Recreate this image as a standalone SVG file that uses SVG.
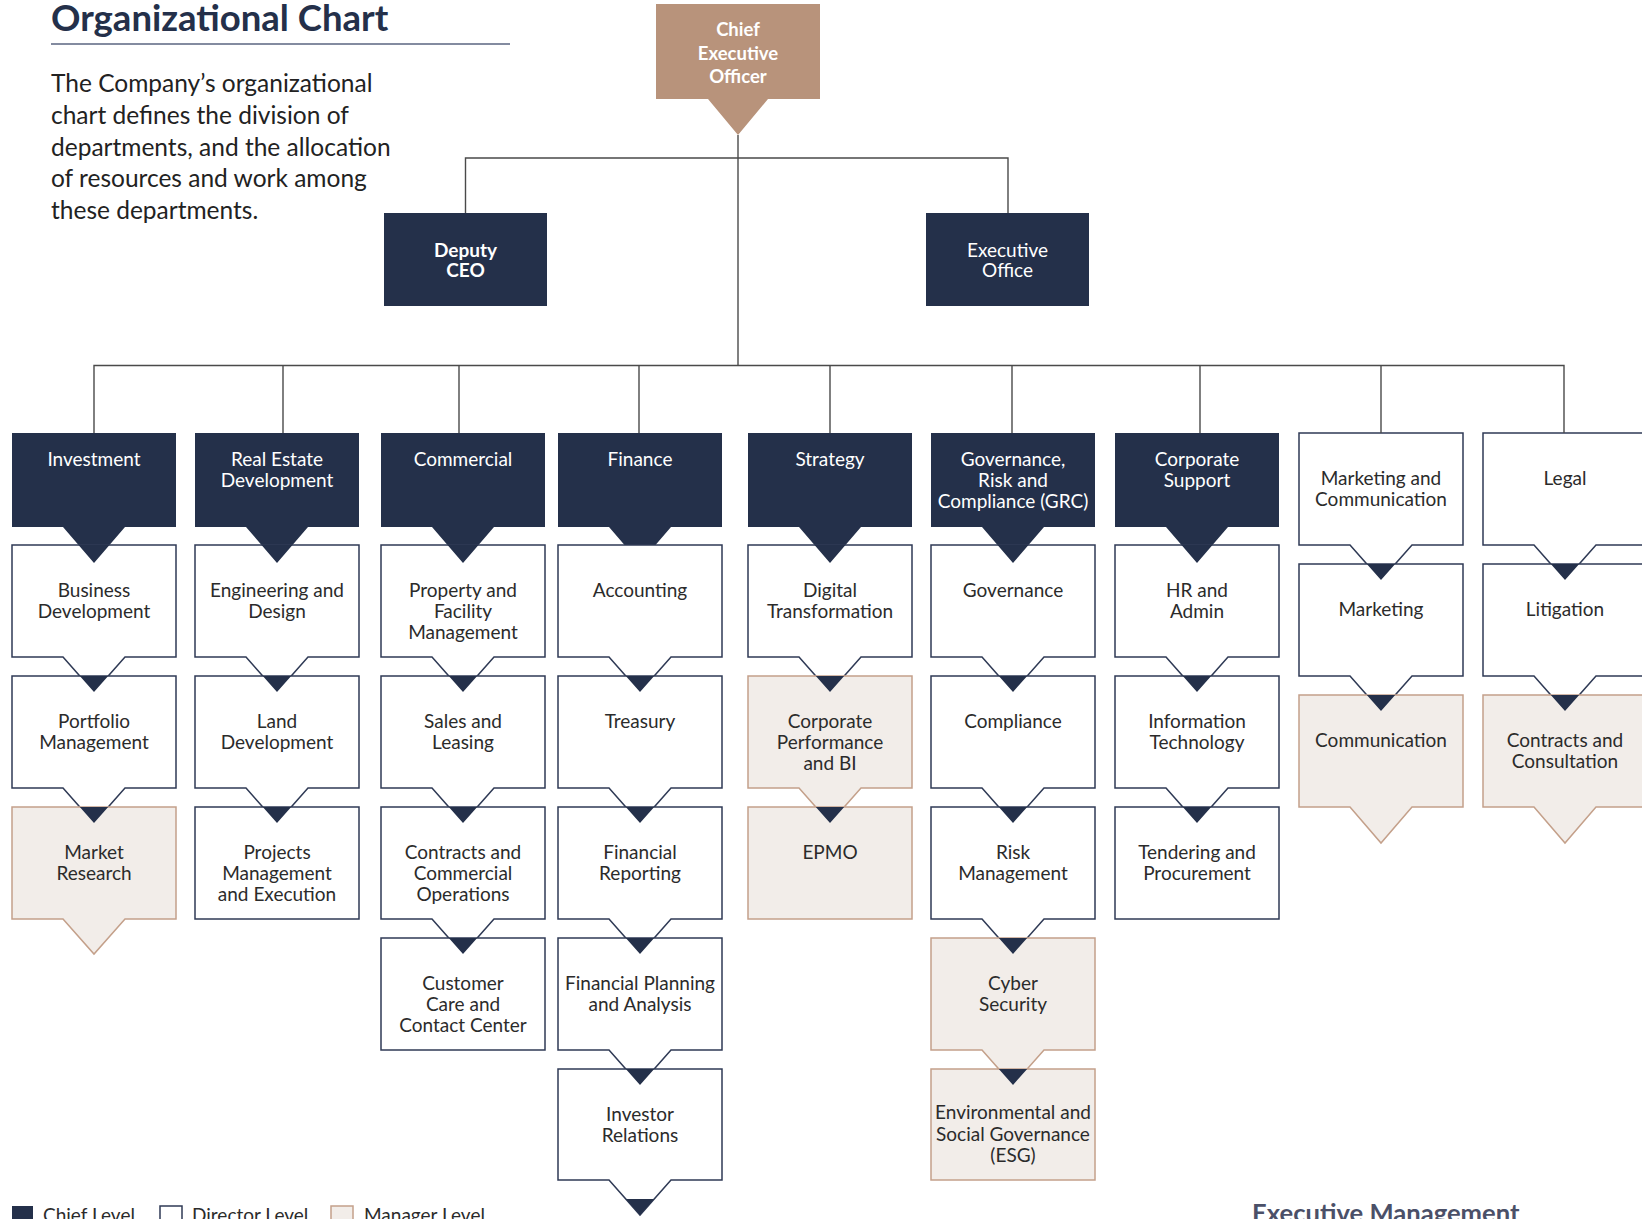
<svg xmlns="http://www.w3.org/2000/svg" width="1642" height="1219" viewBox="0 0 1642 1219">
<style>
text{font-family:Lato,"Open Sans","Liberation Sans",sans-serif;}
.lbl{font-size:19px;fill:#2b2b2b;text-anchor:middle;}
.wl{font-size:19px;fill:#ffffff;text-anchor:middle;}
.wb{font-size:19px;fill:#ffffff;text-anchor:middle;font-weight:700;}
.chief{fill:#24304a;}
.dir{fill:#ffffff;stroke:#2f3a55;stroke-width:1.5;}
.mgr{fill:#f2ede9;stroke:#c4a08a;stroke-width:1.5;}
.ceo{fill:#b8937b;}
.ln{fill:none;stroke:#4a4a4a;stroke-width:1.4;}
.tip{fill:#24304a;}
.leg{font-size:19px;fill:#2b2b2b;}
</style>
<rect width="1642" height="1219" fill="#ffffff"/>

<g id="header">
<text x="51" y="31" style="font-size:36.5px;font-weight:700;fill:#24304a;">Organizational Chart</text>
<line x1="51" y1="44" x2="510" y2="44" stroke="#5a6580" stroke-width="1.5"/>
<text style="font-size:24.5px;fill:#222222;">
<tspan x="51" y="92">The Company’s organizational</tspan>
<tspan x="51" y="123.75">chart defines the division of</tspan>
<tspan x="51" y="155.5">departments, and the allocation</tspan>
<tspan x="51" y="187.25">of resources and work among</tspan>
<tspan x="51" y="219">these departments.</tspan>
</text>
</g>

<g id="ceo">
<path class="ceo" d="M656,4 H820 V99 H768 L738,135 L708,99 H656 Z"/>
<text class="wb" style="font-size:18.5px"><tspan x="738" y="36">Chief</tspan><tspan x="738" y="60">Executive</tspan><tspan x="738" y="83">Officer</tspan></text>
</g>
<g id="deputy-ceo">
<rect class="chief" x="384" y="213" width="163" height="93"/>
<text class="wb"><tspan x="465.5" y="257">Deputy</tspan><tspan x="465.5" y="277">CEO</tspan></text>
</g>
<g id="executive-office">
<rect class="chief" x="926" y="213" width="163" height="93"/>
<text class="wl"><tspan x="1007.5" y="257">Executive</tspan><tspan x="1007.5" y="277">Office</tspan></text>
</g>

<!-- Column 1: Investment -->
<g id="investment">
<path class="chief" d="M12,433 H176 V527 H125 L94,563 L63,527 H12 Z"/>
<text class="wl"><tspan x="94" y="466">Investment</tspan></text>
</g>
<g id="business-development">
<path class="dir" d="M12,545 H176 V657 H125 L94,692 L63,657 H12 Z"/>
<text class="lbl"><tspan x="94" y="597">Business</tspan><tspan x="94" y="618">Development</tspan></text>
</g>
<g id="portfolio-management">
<path class="dir" d="M12,676 H176 V788 H125 L94,823 L63,788 H12 Z"/>
<text class="lbl"><tspan x="94" y="728">Portfolio</tspan><tspan x="94" y="749">Management</tspan></text>
</g>
<g id="market-research">
<path class="mgr" d="M12,807 H176 V919 H125 L94,954 L63,919 H12 Z"/>
<text class="lbl"><tspan x="94" y="859">Market</tspan><tspan x="94" y="880">Research</tspan></text>
</g>

<!-- Column 2: Real Estate Development -->
<g id="real-estate-development">
<path class="chief" d="M195,433 H359 V527 H308 L277,563 L246,527 H195 Z"/>
<text class="wl"><tspan x="277" y="466">Real Estate</tspan><tspan x="277" y="487">Development</tspan></text>
</g>
<g id="engineering-and-design">
<path class="dir" d="M195,545 H359 V657 H308 L277,692 L246,657 H195 Z"/>
<text class="lbl"><tspan x="277" y="597">Engineering and</tspan><tspan x="277" y="618">Design</tspan></text>
</g>
<g id="land-development">
<path class="dir" d="M195,676 H359 V788 H308 L277,823 L246,788 H195 Z"/>
<text class="lbl"><tspan x="277" y="728">Land</tspan><tspan x="277" y="749">Development</tspan></text>
</g>
<g id="projects-management">
<rect class="dir" x="195" y="807" width="164" height="112"/>
<text class="lbl"><tspan x="277" y="859">Projects</tspan><tspan x="277" y="880">Management</tspan><tspan x="277" y="901">and Execution</tspan></text>
</g>

<!-- Column 3: Commercial -->
<g id="commercial">
<path class="chief" d="M381,433 H545 V527 H494 L463,563 L432,527 H381 Z"/>
<text class="wl"><tspan x="463" y="466">Commercial</tspan></text>
</g>
<g id="property-facility-management">
<path class="dir" d="M381,545 H545 V657 H494 L463,692 L432,657 H381 Z"/>
<text class="lbl"><tspan x="463" y="597">Property and</tspan><tspan x="463" y="618">Facility</tspan><tspan x="463" y="639">Management</tspan></text>
</g>
<g id="sales-and-leasing">
<path class="dir" d="M381,676 H545 V788 H494 L463,823 L432,788 H381 Z"/>
<text class="lbl"><tspan x="463" y="728">Sales and</tspan><tspan x="463" y="749">Leasing</tspan></text>
</g>
<g id="contracts-commercial-operations">
<path class="dir" d="M381,807 H545 V919 H494 L463,954 L432,919 H381 Z"/>
<text class="lbl"><tspan x="463" y="859">Contracts and</tspan><tspan x="463" y="880">Commercial</tspan><tspan x="463" y="901">Operations</tspan></text>
</g>
<g id="customer-care">
<rect class="dir" x="381" y="938" width="164" height="112"/>
<text class="lbl"><tspan x="463" y="990">Customer</tspan><tspan x="463" y="1011">Care and</tspan><tspan x="463" y="1032">Contact Center</tspan></text>
</g>

<!-- Column 4: Finance -->
<g id="finance">
<path class="chief" d="M558,433 H722 V527 H671 L640,563 L609,527 H558 Z"/>
<text class="wl"><tspan x="640" y="466">Finance</tspan></text>
</g>
<g id="accounting">
<path class="dir" d="M558,545 H722 V657 H671 L640,692 L609,657 H558 Z"/>
<text class="lbl"><tspan x="640" y="597">Accounting</tspan></text>
</g>
<g id="treasury">
<path class="dir" d="M558,676 H722 V788 H671 L640,823 L609,788 H558 Z"/>
<text class="lbl"><tspan x="640" y="728">Treasury</tspan></text>
</g>
<g id="financial-reporting">
<path class="dir" d="M558,807 H722 V919 H671 L640,954 L609,919 H558 Z"/>
<text class="lbl"><tspan x="640" y="859">Financial</tspan><tspan x="640" y="880">Reporting</tspan></text>
</g>
<g id="financial-planning">
<path class="dir" d="M558,938 H722 V1050 H671 L640,1085 L609,1050 H558 Z"/>
<text class="lbl"><tspan x="640" y="990">Financial Planning</tspan><tspan x="640" y="1011">and Analysis</tspan></text>
</g>
<g id="investor-relations">
<path class="dir" d="M558,1069 H722 V1180 H671 L640,1215 L609,1180 H558 Z"/>
<text class="lbl"><tspan x="640" y="1121">Investor</tspan><tspan x="640" y="1142">Relations</tspan></text>
</g>

<!-- Column 5: Strategy -->
<g id="strategy">
<path class="chief" d="M748,433 H912 V527 H861 L830,563 L799,527 H748 Z"/>
<text class="wl"><tspan x="830" y="466">Strategy</tspan></text>
</g>
<g id="digital-transformation">
<path class="dir" d="M748,545 H912 V657 H861 L830,692 L799,657 H748 Z"/>
<text class="lbl"><tspan x="830" y="597">Digital</tspan><tspan x="830" y="618">Transformation</tspan></text>
</g>
<g id="corporate-performance">
<path class="mgr" d="M748,676 H912 V788 H861 L830,823 L799,788 H748 Z"/>
<text class="lbl"><tspan x="830" y="728">Corporate</tspan><tspan x="830" y="749">Performance</tspan><tspan x="830" y="770">and BI</tspan></text>
</g>
<g id="epmo">
<rect class="mgr" x="748" y="807" width="164" height="112"/>
<text class="lbl"><tspan x="830" y="859">EPMO</tspan></text>
</g>

<!-- Column 6: GRC -->
<g id="grc">
<path class="chief" d="M931,433 H1095 V527 H1044 L1013,563 L982,527 H931 Z"/>
<text class="wl"><tspan x="1013" y="466">Governance,</tspan><tspan x="1013" y="487">Risk and</tspan><tspan x="1013" y="508">Compliance (GRC)</tspan></text>
</g>
<g id="governance">
<path class="dir" d="M931,545 H1095 V657 H1044 L1013,692 L982,657 H931 Z"/>
<text class="lbl"><tspan x="1013" y="597">Governance</tspan></text>
</g>
<g id="compliance">
<path class="dir" d="M931,676 H1095 V788 H1044 L1013,823 L982,788 H931 Z"/>
<text class="lbl"><tspan x="1013" y="728">Compliance</tspan></text>
</g>
<g id="risk-management">
<path class="dir" d="M931,807 H1095 V919 H1044 L1013,954 L982,919 H931 Z"/>
<text class="lbl"><tspan x="1013" y="859">Risk</tspan><tspan x="1013" y="880">Management</tspan></text>
</g>
<g id="cyber-security">
<path class="mgr" d="M931,938 H1095 V1050 H1044 L1013,1085 L982,1050 H931 Z"/>
<text class="lbl"><tspan x="1013" y="990">Cyber</tspan><tspan x="1013" y="1011">Security</tspan></text>
</g>
<g id="esg">
<rect class="mgr" x="931" y="1069" width="164" height="111"/>
<text class="lbl"><tspan x="1013" y="1119">Environmental and</tspan><tspan x="1013" y="1141">Social Governance</tspan><tspan x="1013" y="1162">(ESG)</tspan></text>
</g>

<!-- Column 7: Corporate Support -->
<g id="corporate-support">
<path class="chief" d="M1115,433 H1279 V527 H1228 L1197,563 L1166,527 H1115 Z"/>
<text class="wl"><tspan x="1197" y="466">Corporate</tspan><tspan x="1197" y="487">Support</tspan></text>
</g>
<g id="hr-and-admin">
<path class="dir" d="M1115,545 H1279 V657 H1228 L1197,692 L1166,657 H1115 Z"/>
<text class="lbl"><tspan x="1197" y="597">HR and</tspan><tspan x="1197" y="618">Admin</tspan></text>
</g>
<g id="information-technology">
<path class="dir" d="M1115,676 H1279 V788 H1228 L1197,823 L1166,788 H1115 Z"/>
<text class="lbl"><tspan x="1197" y="728">Information</tspan><tspan x="1197" y="749">Technology</tspan></text>
</g>
<g id="tendering-procurement">
<rect class="dir" x="1115" y="807" width="164" height="112"/>
<text class="lbl"><tspan x="1197" y="859">Tendering and</tspan><tspan x="1197" y="880">Procurement</tspan></text>
</g>

<!-- Column 8: Marketing and Communication -->
<g id="marketing-and-communication">
<path class="dir" d="M1299,433 H1463 V545 H1412 L1381,580 L1350,545 H1299 Z"/>
<text class="lbl"><tspan x="1381" y="485">Marketing and</tspan><tspan x="1381" y="506">Communication</tspan></text>
</g>
<g id="marketing">
<path class="dir" d="M1299,564 H1463 V676 H1412 L1381,711 L1350,676 H1299 Z"/>
<text class="lbl"><tspan x="1381" y="616">Marketing</tspan></text>
</g>
<g id="communication">
<path class="mgr" d="M1299,695 H1463 V807 H1412 L1381,843 L1350,807 H1299 Z"/>
<text class="lbl"><tspan x="1381" y="747">Communication</tspan></text>
</g>

<!-- Column 9: Legal -->
<g id="legal">
<path class="dir" d="M1483,433 H1647 V545 H1596 L1565,580 L1534,545 H1483 Z"/>
<text class="lbl"><tspan x="1565" y="485">Legal</tspan></text>
</g>
<g id="litigation">
<path class="dir" d="M1483,564 H1647 V676 H1596 L1565,711 L1534,676 H1483 Z"/>
<text class="lbl"><tspan x="1565" y="616">Litigation</tspan></text>
</g>
<g id="contracts-and-consultation">
<path class="mgr" d="M1483,695 H1647 V807 H1596 L1565,843 L1534,807 H1483 Z"/>
<text class="lbl"><tspan x="1565" y="747">Contracts and</tspan><tspan x="1565" y="768">Consultation</tspan></text>
</g>

<g id="connectors">
<path class="ln" d="M738,135 V365.5"/>
<path class="ln" d="M465.5,213 V158 H1008 V213"/>
<path class="ln" d="M94,433 V365.5 H1564 V433"/>
<path class="ln" d="M283,365.5 V433 M459,365.5 V433 M639,365.5 V433 M830,365.5 V433 M1012,365.5 V433 M1200,365.5 V433 M1381,365.5 V433"/>
<path class="tip" d="M78.5,545 H109.5 L94,563 Z M261.5,545 H292.5 L277,563 Z M447.5,545 H478.5 L463,563 Z M814.5,545 H845.5 L830,563 Z M997.5,545 H1028.5 L1013,563 Z M1181.5,545 H1212.5 L1197,563 Z"/>
<path class="tip" d="M79.8,676 H108.2 L94,692 Z M79.8,807 H108.2 L94,823 Z"/>
<path class="tip" d="M262.8,676 H291.2 L277,692 Z M262.8,807 H291.2 L277,823 Z"/>
<path class="tip" d="M448.8,676 H477.2 L463,692 Z M448.8,807 H477.2 L463,823 Z M448.8,938 H477.2 L463,954 Z"/>
<path class="tip" d="M625.8,676 H654.2 L640,692 Z M625.8,807 H654.2 L640,823 Z M625.8,938 H654.2 L640,954 Z M625.8,1069 H654.2 L640,1085 Z M625.8,1199 H654.2 L640,1215 Z"/>
<path class="tip" d="M815.8,676 H844.2 L830,692 Z M815.8,807 H844.2 L830,823 Z"/>
<path class="tip" d="M998.8,676 H1027.2 L1013,692 Z M998.8,807 H1027.2 L1013,823 Z M998.8,938 H1027.2 L1013,954 Z M998.8,1069 H1027.2 L1013,1085 Z"/>
<path class="tip" d="M1182.8,676 H1211.2 L1197,692 Z M1182.8,807 H1211.2 L1197,823 Z"/>
<path class="tip" d="M1366.8,564 H1395.2 L1381,580 Z M1366.8,695 H1395.2 L1381,711 Z"/>
<path class="tip" d="M1550.8,564 H1579.2 L1565,580 Z M1550.8,695 H1579.2 L1565,711 Z"/>
</g>

<g id="legend">
<rect class="chief" x="12" y="1206" width="21" height="21"/>
<text class="leg" x="43" y="1222">Chief Level</text>
<rect class="dir" x="160" y="1206" width="22" height="21"/>
<text class="leg" x="192" y="1222">Director Level</text>
<rect class="mgr" x="331" y="1206" width="22" height="21"/>
<text class="leg" x="364" y="1222">Manager Level</text>
</g>
<g id="footer">
<text x="1252" y="1222" style="font-size:25.6px;font-weight:700;fill:#4b5068;">Executive Management</text>
</g>
</svg>
